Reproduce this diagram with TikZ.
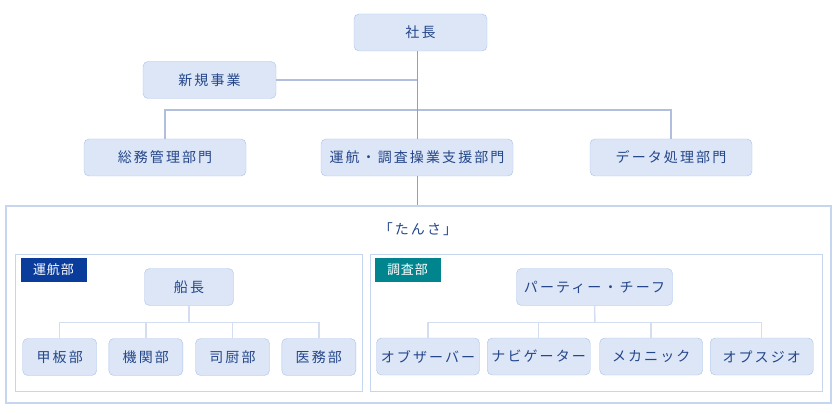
\documentclass[tikz,border=0pt]{standalone}
\usepackage{fontspec}
\newfontfamily\jpfont[LetterSpace=15]{Noto Sans CJK JP}
\newfontfamily\jptagfont[LetterSpace=6]{Noto Sans CJK JP}
\usetikzlibrary{shapes,arrows}

\definecolor{boxfill}{HTML}{DCE6F6}
\definecolor{boxline}{HTML}{A8C2EC}
\definecolor{txtblue}{HTML}{24468A}
\definecolor{trunkline}{HTML}{8D9FCA}
\definecolor{branchline}{HTML}{B1BFDD}
\definecolor{innerline}{HTML}{D3DEF1}
\definecolor{frameline}{HTML}{C6D6F1}
\definecolor{unkoblue}{HTML}{0A3C9C}
\definecolor{chosateal}{HTML}{00858F}

\tikzset{
  post/.style={draw=boxline, fill=boxfill, rounded corners=5pt, text=txtblue,
    font=\jpfont\fontsize{14}{16}\selectfont, minimum height=37pt, inner sep=0pt},
  tag/.style={fill=#1, text=white, font=\jptagfont\fontsize{13}{15}\selectfont,
    minimum width=66pt, minimum height=24pt, inner sep=0pt},
  frame/.style={draw=frameline, line width=#1, inner sep=0pt},
  trunk/.style={draw=trunkline, line width=1pt},
  branch/.style={draw=branchline, line width=2pt},
  inner/.style={draw=innerline, line width=1.5pt}
}

\begin{document}
\begin{tikzpicture}[x=1pt, y=-1pt]
\useasboundingbox (0,0) rectangle (840,414);
\node[post, minimum width=133pt] (shacho) at (420.5,32.5) {社長};
\node[post, minimum width=133pt] (shinki) at (209.5,80) {新規事業};
\node[post, minimum width=162pt] (somu) at (165,157.5) {総務管理部門};
\node[post, minimum width=192pt] (unko) at (417,157.5) {運航・調査操業支援部門};
\node[post, minimum width=162pt] (data) at (671,157.5) {データ処理部門};
\coordinate (topbar) at (417,110);
\draw[branch] (shinki.east) -- (shinki.east -| unko.north);
\draw[branch] (somu.north) |- (topbar) -| (data.north);

\node[frame=2pt, minimum width=825pt, minimum height=197pt] (tansa) at (418.2,304.2) {};
\node[text=txtblue, font=\jpfont\fontsize{14}{16}\selectfont] (tansatitle) at (418,229) {「たんさ」};
\draw[trunk] (unko.north |- shacho.south) -- (unko.north);
\draw[trunk] (unko.south) -- (unko.south |- tansa.north);

\node[frame=1pt, minimum width=347pt, minimum height=137.5pt] (unkobu) at (189.2,323.2) {};
\node[tag=unkoblue] (unkotag) at (53.5,269.7) {運航部};
\node[post, minimum width=89pt] (sencho) at (189,287) {船長};
\node[post, minimum width=74pt] (kouhan) at (59.7,357) {甲板部};
\node[post, minimum width=74pt] (kikan) at (145.8,357) {機関部};
\node[post, minimum width=74pt] (shichu) at (232.5,357) {司厨部};
\node[post, minimum width=74pt] (imu) at (318.8,357) {医務部};
\coordinate (leftbar) at (189,322.7);
\draw[inner] (sencho.south) -- (leftbar);
\draw[inner] (kouhan.north) |- (leftbar) -| (imu.north);
\draw[inner] (kikan.north) -- (kikan.north |- leftbar);
\draw[inner] (shichu.north) -- (shichu.north |- leftbar);

\node[frame=1pt, minimum width=452.4pt, minimum height=137pt] (chosabu) at (596.5,323) {};
\node[tag=chosateal] (chosatag) at (407.5,270) {調査部};
\node[post, minimum width=156pt] (chief) at (594.5,287) {パーティー・チーフ};
\node[post, minimum width=103pt] (observer) at (428,356.5) {オブザーバー};
\node[post, minimum width=103pt] (navi) at (538.7,356.5) {ナビゲーター};
\node[post, minimum width=103pt] (mecha) at (651.2,356.5) {メカニック};
\node[post, minimum width=103pt] (opsjio) at (761.7,356.5) {オプスジオ};
\coordinate (rightbar) at (595,322.7);
\draw[inner] (chief.south) -- (rightbar);
\draw[inner] (observer.north) |- (rightbar) -| (opsjio.north);
\draw[inner] (navi.north) -- (navi.north |- rightbar);
\draw[inner] (mecha.north) -- (mecha.north |- rightbar);
\end{tikzpicture}
\end{document}
